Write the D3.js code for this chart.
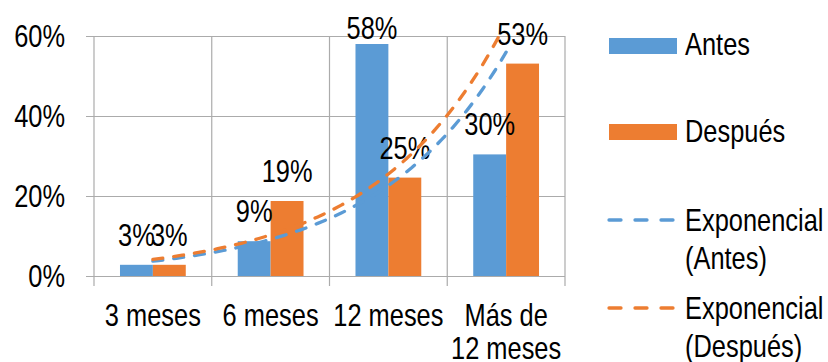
<!DOCTYPE html>
<html lang="es">
<head>
    <meta charset="UTF-8">
    <title>Antes / Después</title>
    <style>
        body { margin: 0; background: #fff; }
        svg text { font-family: "Liberation Sans", Arial, sans-serif; fill: #000; }
    </style>
</head>
<body>
    <script src="https://cdn.jsdelivr.net/npm/d3@7"></script>
    <script>
        // Chart data
        const categories = ["3 meses", "6 meses", "12 meses", "Más de 12 meses"];
        const categoryLines = [["3 meses"], ["6 meses"], ["12 meses"], ["Más de", "12 meses"]];
        const seriesNames = ["Antes", "Después"];
        const antes = [0.028, 0.087, 0.58, 0.304];
        const despues = [0.028, 0.1875, 0.246, 0.531];
        const yTicks = [0, 0.2, 0.4, 0.6];
        const colors = { "Antes": "#5B9BD5", "Después": "#ED7D31" };

        const width = 828, height = 362;
        const plot = { left: 94, right: 565, top: 36, bottom: 276 };
        const fontSize = 31;
        const squeeze = 0.82; // the reference uses a narrow face

        // place a text at (x, y) with a horizontal squeeze
        const place = (x, y) => `translate(${x},${y}) scale(${squeeze},1)`;

        const svg = d3.select("body").append("svg")
            .attr("width", width)
            .attr("height", height)
            .attr("viewBox", [0, 0, width, height]);

        const x0 = d3.scaleBand()
            .domain(categories)
            .range([plot.left, plot.right])
            .padding(0);

        const x1 = d3.scaleBand()
            .domain(seriesNames)
            .range([0, x0.bandwidth()])
            .paddingInner(0)
            .paddingOuter(0.79);

        const y = d3.scaleLinear()
            .domain([0, 0.6])
            .range([plot.bottom, plot.top]);

        // horizontal gridlines + labels
        const tickSize = plot.right - (plot.left - 8);
        const tickPad = 21;
        svg.append("g")
            .attr("transform", `translate(${plot.right},0)`)
            .call(d3.axisLeft(y)
                .tickValues(yTicks)
                .tickFormat(d3.format(".0%"))
                .tickSize(tickSize)
                .tickPadding(tickPad))
            .call(g => g.select(".domain").remove())
            .call(g => g.selectAll(".tick line").attr("stroke", "#ababab").attr("stroke-width", 1.2))
            .call(g => g.selectAll(".tick text")
                .attr("x", null)
                .attr("transform", place(-(tickSize + tickPad), 0))
                .attr("font-size", fontSize)
                .attr("dy", "0.34em")
                .style("font-family", "'Liberation Sans', Arial, sans-serif"));

        // vertical gridlines at category boundaries
        const bounds = categories.map(c => x0(c)).concat([x0.range()[1]]);
        svg.append("g")
            .selectAll("line")
            .data(bounds)
            .join("line")
            .attr("x1", d => d).attr("x2", d => d)
            .attr("y1", plot.top).attr("y2", plot.bottom + 10)
            .attr("stroke", "#ababab")
            .attr("stroke-width", 1.2);

        // bars
        const rows = categories.map((c, i) => ({ cat: c, values: [
            { name: "Antes", v: antes[i] },
            { name: "Después", v: despues[i] }
        ]}));

        const groups = svg.append("g")
            .selectAll("g")
            .data(rows)
            .join("g")
            .attr("transform", d => `translate(${x0(d.cat)},0)`);

        groups.selectAll("rect")
            .data(d => d.values)
            .join("rect")
            .attr("x", d => x1(d.name))
            .attr("y", d => y(d.v))
            .attr("width", x1.bandwidth())
            .attr("height", d => y(0) - y(d.v))
            .attr("fill", d => colors[d.name]);

        // exponential trendlines (least squares on ln(y), as Excel does)
        function expFit(vals) {
            const xs = vals.map((_, i) => i + 1);
            const ls = vals.map(v => Math.log(v));
            const mx = d3.mean(xs), ml = d3.mean(ls);
            const b = d3.sum(xs, (xv, i) => (xv - mx) * (ls[i] - ml)) / d3.sum(xs, xv => (xv - mx) ** 2);
            const a = ml - b * mx;
            return t => Math.exp(a + b * t);
        }

        const xt = d3.scaleLinear()
            .domain([1, categories.length])
            .range([x0(categories[0]) + x0.bandwidth() / 2, x0(categories[categories.length - 1]) + x0.bandwidth() / 2]);

        svg.append("clipPath").attr("id", "plotclip")
            .append("rect")
            .attr("x", plot.left).attr("y", plot.top)
            .attr("width", plot.right - plot.left).attr("height", plot.bottom - plot.top);

        const trendLine = d3.line().x(d => xt(d[0])).y(d => y(d[1]));
        [["Antes", antes], ["Después", despues]].forEach(([name, vals]) => {
            const f = expFit(vals);
            const pts = d3.range(1, categories.length + 0.001, 0.05).map(t => [t, f(t)]);
            svg.append("path")
                .datum(pts)
                .attr("clip-path", "url(#plotclip)")
                .attr("d", trendLine)
                .attr("fill", "none")
                .attr("stroke", colors[name])
                .attr("stroke-width", 3.3)
                .attr("stroke-linecap", "round")
                .attr("stroke-dasharray", "10,11");
        });

        // data labels
        groups.selectAll("text.lbl")
            .data(d => d.values)
            .join("text")
            .attr("class", "lbl")
            .attr("transform", d => place(x1(d.name) + x1.bandwidth() / 2, Math.max(y(d.v) - 19, plot.top + 3)))
            .attr("text-anchor", "middle")
            .attr("font-size", fontSize)
            .text(d => d3.format(".0%")(d.v));

        // category labels
        svg.append("g")
            .selectAll("text")
            .data(categories)
            .join("text")
            .attr("transform", d => place(x0(d) + x0.bandwidth() / 2, 326))
            .attr("text-anchor", "middle")
            .attr("font-size", fontSize)
            .selectAll("tspan")
            .data((d, i) => categoryLines[i])
            .join("tspan")
            .attr("x", 0)
            .attr("dy", (d, i) => i === 0 ? 0 : 33)
            .text(d => d);

        // legend
        const legendBars = [
            { name: "Antes", cy: 46, baseline: 55 },
            { name: "Después", cy: 132, baseline: 142 }
        ];
        const lg = svg.append("g");
        lg.selectAll("rect")
            .data(legendBars)
            .join("rect")
            .attr("x", 609).attr("y", d => d.cy - 8)
            .attr("width", 68).attr("height", 16)
            .attr("fill", d => colors[d.name]);
        lg.selectAll("text.bar")
            .data(legendBars)
            .join("text")
            .attr("class", "bar")
            .attr("transform", d => place(685, d.baseline))
            .attr("font-size", fontSize)
            .text(d => d.name);

        const legendTrends = [
            { name: "Antes", cy: 220, lines: ["Exponencial", "(Antes)"], baseline: 231 },
            { name: "Después", cy: 308, lines: ["Exponencial", "(Después)"], baseline: 319 }
        ];
        lg.selectAll("line")
            .data(legendTrends)
            .join("line")
            .attr("x1", 609).attr("x2", 677)
            .attr("y1", d => d.cy).attr("y2", d => d.cy)
            .attr("stroke", d => colors[d.name])
            .attr("stroke-width", 3.3)
            .attr("stroke-linecap", "round")
            .attr("stroke-dasharray", "12,14");
        lg.selectAll("text.trend")
            .data(legendTrends)
            .join("text")
            .attr("class", "trend")
            .attr("transform", d => place(685, d.baseline))
            .attr("font-size", fontSize)
            .selectAll("tspan")
            .data(d => d.lines)
            .join("tspan")
            .attr("x", 0)
            .attr("dy", (d, i) => i === 0 ? 0 : 38)
            .text(d => d);
    </script>
</body>
</html>
